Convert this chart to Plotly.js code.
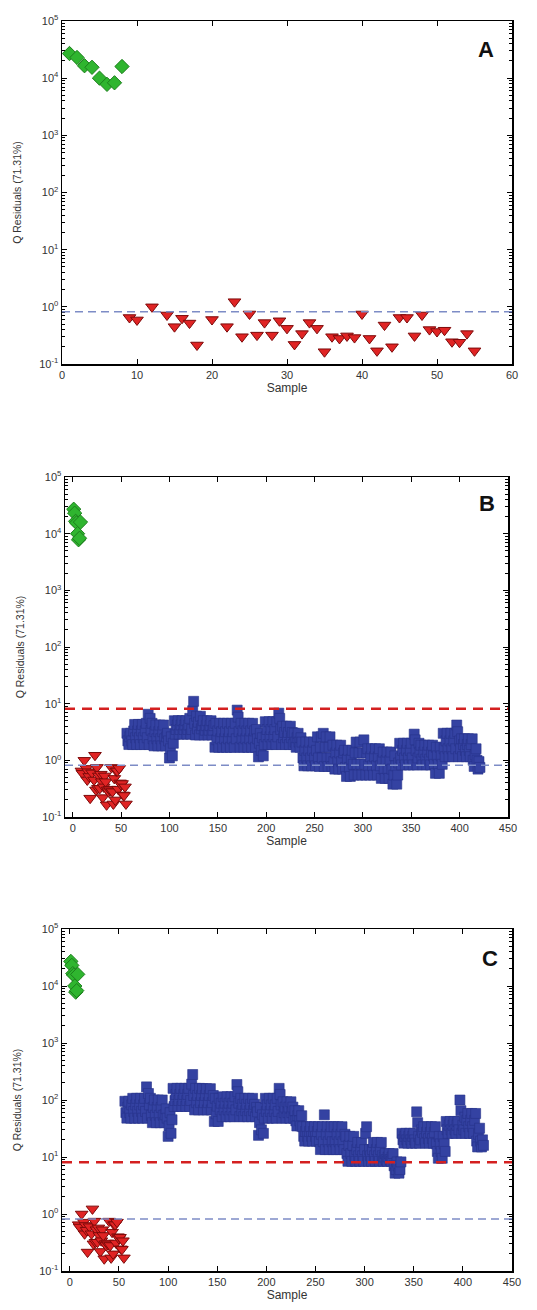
<!DOCTYPE html>
<html><head><meta charset="utf-8">
<script src="https://cdn.plot.ly/plotly-3.0.1.min.js"></script>
<style>html,body{margin:0;padding:0;background:#fff;}#chart{width:537px;height:1310px;}</style>
</head><body><div id="chart"></div>
<script>
// ---- data ----
const greenSamples = [1, 2, 3, 4, 5, 6, 7, 8];
const greenQ = [27000, 23000, 16500, 15500, 10000, 7800, 8300, 16000];

const redSamples = [9, 10, 12, 14, 15, 16, 17, 18, 20, 22, 23, 24, 25, 26, 27, 28, 29, 30, 31, 32, 33, 34,
  35, 36, 37, 38, 39, 40, 41, 42, 43, 44, 45, 46, 47, 48, 49, 50, 51, 52, 53, 54, 55];
const redQ = [0.65, 0.59, 1.0, 0.72, 0.45, 0.63, 0.52, 0.215, 0.6, 0.45, 1.23, 0.30, 0.75, 0.32, 0.53, 0.32,
  0.57, 0.42, 0.22, 0.34, 0.53, 0.42, 0.164, 0.30, 0.28, 0.31, 0.29, 0.75, 0.28, 0.17, 0.48, 0.2, 0.65, 0.65,
  0.31, 0.72, 0.40, 0.37, 0.39, 0.245, 0.24, 0.34, 0.17];

const blueFirstSample = 56;   // blue samples are numbered consecutively from here
const blueQ_B = [
  3.0, 2.2, 1.9, 2.6, 3.0, 2.2, 1.9,
  3.3, 4.3, 2.5, 1.9, 3.3, 4.3, 2.5, 1.9, 3.3, 4.3, 2.5, 1.9, 3.3,
  4.5, 2.5, 6.5, 1.9, 5.5, 3.4, 4.5,
  2.4, 1.8, 3.2, 4.2, 2.4, 1.8, 3.2, 4.2, 2.4, 1.8, 3.2, 4.2, 2.4,
  1.8, 2.6, 3.0, 2.2,
  1.1, 1.6, 2.6, 1.2, 2.0,
  5.0, 2.9, 3.5, 4.2, 5.0, 2.9, 3.5, 4.2, 5.0, 2.9, 3.5, 4.2, 5.0, 2.9,
  3.5, 4.2, 5.5, 2.9, 3.5,
  7.5, 11, 4.5,
  2.8, 6.0, 3.6, 4.7, 2.8, 6.0, 3.6,
  4.1, 5.0, 2.8, 3.4, 4.1, 5.0, 2.8, 3.4, 4.1, 5.0, 2.8, 3.4, 4.1,
  1.7, 4.5, 2.3, 3.3, 1.7, 4.5,
  2.4, 3.2, 1.7, 4.5, 2.4, 3.2, 1.7, 4.5, 2.4, 3.2, 1.7, 4.5, 2.4, 3.2, 1.7,
  4.5, 2.4, 7.7, 5.8, 3.2,
  1.7, 4.5, 2.4, 3.3, 1.7, 4.5, 2.4, 3.3, 1.7, 4.5, 2.4, 3.3, 1.7, 4.5, 2.4, 3.3,
  1.7, 3.5, 2.4,
  1.15, 2.0, 3.0, 1.5, 2.5, 1.2,
  1.9, 4.8, 2.6, 3.5, 1.9, 4.8, 2.6, 3.5, 1.9, 4.8, 2.6, 3.5, 1.9,
  4.8, 2.6, 6.8, 5.5, 3.5, 1.9,
  4.0, 2.5, 3.1, 1.9, 4.0, 2.5, 3.1, 1.9, 4.0, 2.5, 3.1, 1.9,
  3.0, 2.1, 1.7, 2.5, 3.0, 2.1, 1.7, 2.5,
  2.1, 1.1, 0.8, 1.5, 2.1, 1.1, 0.8, 1.5, 2.1, 1.1, 0.8, 1.5, 2.1, 1.1, 0.8, 1.5,
  2.6, 1.1, 0.78, 1.7, 2.6, 1.1, 3.0, 0.78, 1.7, 2.6, 1.1, 0.78, 1.7, 2.6, 1.1, 0.78,
  1.85, 0.95, 0.7, 1.35, 1.85, 0.95, 0.7, 1.35, 1.85, 0.95, 0.7, 1.35,
  1.5, 0.75, 0.52, 1.05, 1.5, 0.75, 0.52, 1.05, 1.5,
  0.85, 0.55, 1.35, 2.1, 0.85, 0.55, 1.35, 2.1, 0.85, 0.55, 1.35,
  2.3, 0.85, 0.55, 1.35, 1.6,
  0.8, 0.55, 1.15, 1.6, 0.8, 0.55, 1.15, 1.6, 0.8, 0.55, 1.15, 1.6, 0.8,
  0.48, 1.0, 1.4, 0.7, 0.48, 1.0, 1.4, 0.7, 0.48, 1.0, 1.4,
  0.7, 0.38, 0.55, 1.2, 0.8, 0.38, 0.55, 0.9,
  2.0, 1.1, 0.83, 1.5, 2.0, 1.1, 0.83, 1.5, 2.0, 1.1, 0.83, 1.5,
  2.0, 1.1, 0.83, 2.9, 2.3, 1.5, 0.83, 1.1, 2.0,
  1.4, 1.85, 1.05, 0.83, 1.4, 1.85, 1.05, 0.83, 1.4, 1.85, 1.05, 0.83, 1.4, 1.85,
  1.2, 0.85, 0.59, 1.7, 1.2, 0.85, 0.59, 1.7, 1.2, 0.85,
  3.0, 1.6, 1.16, 2.2, 3.0, 1.6, 1.16, 2.2, 3.0, 1.6, 1.16,
  2.2, 3.0, 1.6, 4.2, 3.2, 1.16, 2.2, 1.6, 2.4,
  1.16, 1.9, 2.4, 1.5, 1.16, 1.9, 2.4, 1.5, 1.16, 1.9, 2.4,
  1.0, 0.78, 1.25, 1.6, 1.0,
  0.7, 0.95, 0.75
];
const blueQ_C = [
  95, 60, 48, 75, 95, 60, 48,
  82, 107, 63, 48, 82, 107, 63, 48, 82, 107, 63, 48, 82,
  107, 63, 170, 48, 130, 82, 107,
  54, 40, 74, 100, 54, 40, 74, 100, 54, 40, 74, 100, 54,
  40, 55, 70, 48,
  23, 35, 60, 26, 45,
  160, 77, 98, 125, 160, 77, 98, 125, 160, 77, 98, 125, 160, 77,
  98, 125, 160, 77, 98,
  190, 280, 120,
  67, 160, 90, 120, 67, 160, 90,
  120, 158, 67, 90, 120, 158, 67, 90, 120, 158, 67, 90, 120,
  42, 107, 57, 78, 42, 107,
  67, 88, 51, 114, 67, 88, 51, 114, 67, 88, 51, 114, 67, 88, 51,
  114, 67, 187, 140, 88,
  51, 107, 65, 84, 51, 107, 65, 84, 51, 107, 65, 84, 51, 107, 65, 84,
  51, 74, 62,
  24, 40, 74, 30, 55, 26,
  48, 107, 63, 82, 48, 107, 63, 82, 48, 107, 63, 82, 48,
  107, 63, 160, 125, 82, 48,
  93, 60, 75, 48, 93, 60, 75, 48, 93, 60, 75, 48,
  65, 43, 35, 53, 65, 43, 35, 53,
  34, 23, 19, 28, 34, 23, 19, 28, 34, 23, 19, 28, 34, 23, 19, 28,
  34, 18.5, 13.5, 25, 34, 18.5, 55, 13.5, 25, 34, 18.5, 13.5, 25, 34, 18.5, 13.5,
  34, 18.5, 13.5, 25, 34, 18.5, 13.5, 25, 34, 18.5, 13.5, 25,
  23, 11.5, 8.4, 16, 23, 11.5, 8.4, 16, 23,
  10.5, 8.4, 13.5, 18, 10.5, 8.4, 13.5, 18, 10.5, 8.4, 13.5,
  26, 34, 10.5, 8.4, 13.5,
  10.5, 8.4, 13.5, 18, 10.5, 8.4, 13.5, 18, 10.5, 8.4, 13.5, 18, 10.5,
  8.4, 10, 11.5, 9, 8.4, 10, 11.5, 9, 8.4, 10, 11.5,
  7, 5.2, 6, 8.2, 7, 5.2, 6, 8.2,
  26, 20, 17.5, 23, 26, 20, 17.5, 23, 26, 20, 17.5, 23,
  26, 20, 17.5, 62, 40, 23, 17.5, 20, 30,
  27, 34, 21, 17.5, 27, 34, 21, 17.5, 27, 34, 21, 17.5, 27, 34,
  17, 12.5, 9.5, 23, 17, 12.5, 9.5, 23, 17, 12.5,
  42, 30, 26, 36, 42, 30, 26, 36, 42, 30, 26,
  36, 42, 30, 100, 65, 26, 36, 30, 50,
  26, 44, 58, 34, 26, 44, 58, 34, 26, 44, 58,
  19, 15, 25, 32, 19,
  15, 20, 16
];

const qLimitBlue = 0.82;   // blue dashed limit
const qLimitRed = 8.1;     // red dashed limit (panels B, C)
const panelLabels = ['A', 'B', 'C'];
const yTitleText = 'Q Residuals (71.31%)';
const xTitleText = 'Sample';
const xTicksA = [0, 10, 20, 30, 40, 50, 60];
const xTicksBC = [0, 50, 100, 150, 200, 250, 300, 350, 400, 450];
const yDecades = [-1, 0, 1, 2, 3, 4, 5];
const yMinorMantissas = [2, 3, 4, 5, 6, 7, 8, 9];

// ---- build ----
const blueSamples = blueQ_B.map((_, i) => blueFirstSample + i);
const yTickVals = yDecades.map(d => Math.pow(10, d));
const yTickText = yDecades.map(d => '10<sup>' + d + '</sup>');
const yMinorVals = [];
yDecades.slice(0, -1).forEach(d => yMinorMantissas.forEach(m => yMinorVals.push(m * Math.pow(10, d))));

const greenMarker = {symbol: 'diamond', size: 11, color: '#2fb52f', line: {color: '#1d7f1d', width: 1}};
const redMarker = {symbol: 'triangle-down', size: 11, color: '#e02424', line: {color: '#7d0a0a', width: 1}};
const blueMarker = {symbol: 'square', size: 10, color: '#3442a2', line: {color: '#27338a', width: 0.6}};

function tr(x, y, m, ax) {
  return {type: 'scatter', mode: 'markers', x: x, y: y, marker: m, xaxis: 'x' + ax, yaxis: 'y' + ax,
          showlegend: false, hoverinfo: 'skip'};
}
const data = [
  tr(greenSamples, greenQ, greenMarker, ''),
  tr(redSamples, redQ, redMarker, ''),
  tr(blueSamples, blueQ_B, blueMarker, '2'),
  tr(greenSamples, greenQ, greenMarker, '2'),
  tr(redSamples, redQ, redMarker, '2'),
  tr(blueSamples, blueQ_C, blueMarker, '3'),
  tr(greenSamples, greenQ, greenMarker, '3'),
  tr(redSamples, redQ, redMarker, '3')
];

const W = 537, H = 1310;
const fontFam = '"Liberation Sans", Arial, sans-serif';
const tickFont = {family: fontFam, size: 11, color: '#333'};

function xAx(px0, px1, range, ticks, anchor) {
  return {domain: [px0 / W, px1 / W], range: range, tickmode: 'array', tickvals: ticks, ticktext: ticks.map(String),
    ticks: 'inside', ticklen: 5, tickcolor: '#000', tickwidth: 1, showline: true, linecolor: '#000',
    linewidth: 1.5, mirror: 'ticks', showgrid: false, zeroline: false, anchor: anchor,
    tickfont: tickFont, title: {text: xTitleText, font: {family: fontFam, size: 12, color: '#333'}, standoff: 0}};
}
function yAx(pyTop, pyBot, anchor) {
  return {domain: [1 - pyBot / H, 1 - pyTop / H], type: 'log', range: [-1, 5],
    tickmode: 'array', tickvals: yTickVals, ticktext: yTickText,
    ticks: 'inside', ticklen: 5, tickcolor: '#000', tickwidth: 1,
    minor: {tickmode: 'array', tickvals: yMinorVals, ticks: 'inside', ticklen: 3, tickcolor: '#000', showgrid: false},
    showline: true, linecolor: '#000', linewidth: 1.5, mirror: 'ticks', showgrid: false, zeroline: false,
    anchor: anchor, tickfont: tickFont,
    title: {text: yTitleText, font: {family: fontFam, size: 10.5, color: '#333'}, standoff: 15}};
}

function hline(val, ax, color, width, dash) {
  return {type: 'line', xref: 'x' + ax + ' domain', yref: 'y' + ax, x0: 0, x1: 1, y0: val, y1: val,
          line: {color: color, width: width, dash: dash}, layer: 'above'};
}
const blueDash = '#7d8cc6', redDash = '#d42020';

function letter(t, px, py) {
  return {text: '<b>' + t + '</b>', xref: 'paper', yref: 'paper', x: px / W, y: 1 - py / H,
          xanchor: 'center', yanchor: 'middle', showarrow: false,
          font: {family: '"Liberation Sans", Arial, sans-serif', size: 22, color: '#111'}};
}

const layout = {
  width: W, height: H, margin: {l: 0, r: 0, t: 0, b: 0},
  paper_bgcolor: '#fff', plot_bgcolor: '#fff', showlegend: false,
  xaxis: xAx(62, 512, [0, 60], xTicksA, 'y'),
  yaxis: yAx(21, 364, 'x'),
  xaxis2: xAx(65, 508, [-8, 450], xTicksBC, 'y2'),
  yaxis2: yAx(477, 817, 'x2'),
  xaxis3: xAx(62, 512, [-8, 450], xTicksBC, 'y3'),
  yaxis3: yAx(929, 1271, 'x3'),
  shapes: [
    hline(qLimitBlue, '', blueDash, 1.5, '8px,5px'),
    hline(qLimitRed, '2', redDash, 2.5, '10px,7px'),
    hline(qLimitBlue, '2', blueDash, 1.5, '8px,5px'),
    hline(qLimitRed, '3', redDash, 2.5, '10px,7px'),
    hline(qLimitBlue, '3', blueDash, 1.5, '8px,5px')
  ],
  annotations: [letter(panelLabels[0], 486, 50), letter(panelLabels[1], 487, 503), letter(panelLabels[2], 490, 958)]
};

Plotly.newPlot('chart', data, layout, {staticPlot: true, displayModeBar: false});
</script></body></html>
